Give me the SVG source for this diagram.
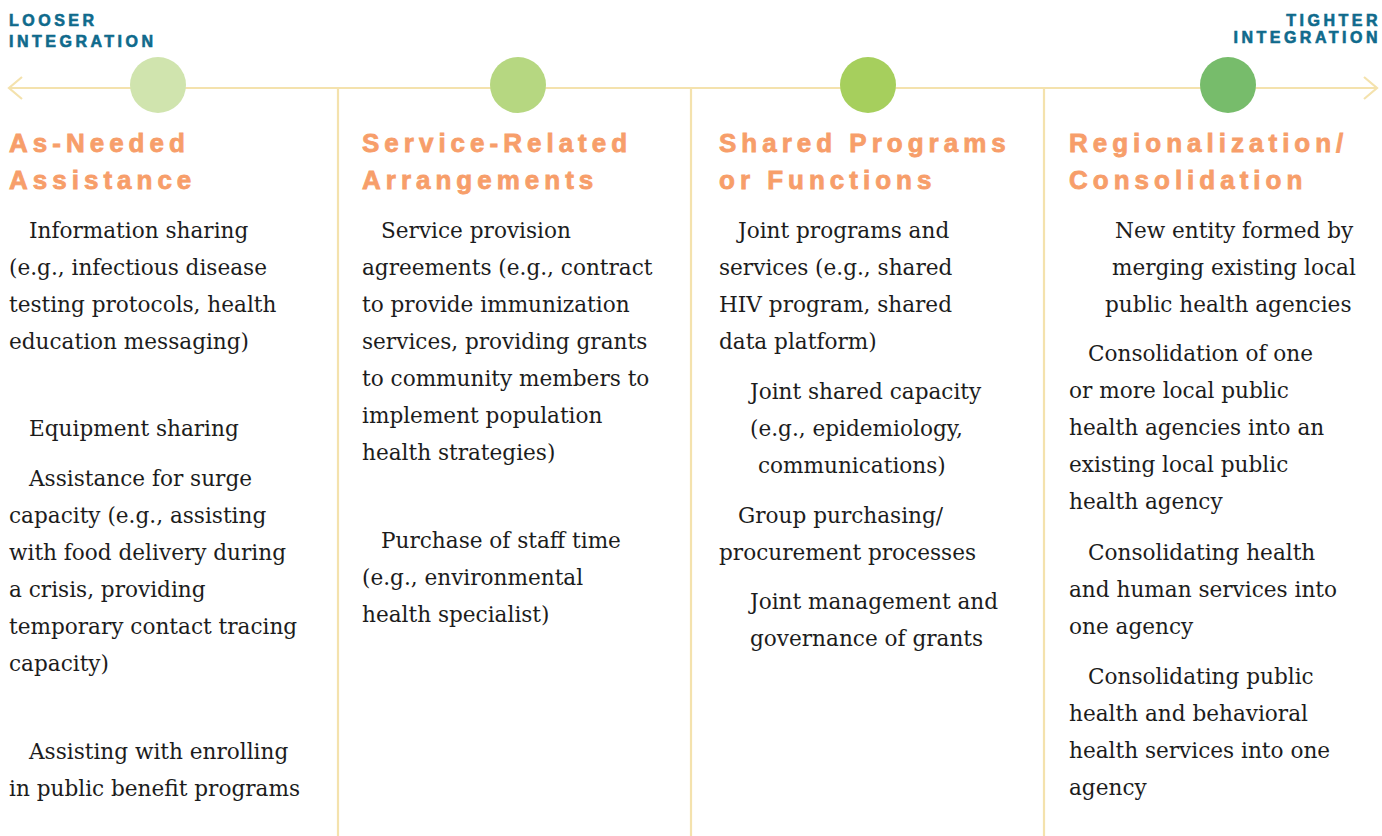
<svg xmlns="http://www.w3.org/2000/svg" width="1382" height="836" viewBox="0 0 1382 836">
  <style>
    .axis { stroke: #f4e2ad; stroke-width: 2.2; fill: none; }
    .divider { stroke: #f4e2ad; stroke-width: 2.2; }
    .end-label { font-family: "Liberation Sans", Arial, sans-serif; font-weight: 700; font-size: 16px; letter-spacing: 3.5px; fill: #0f6a8c; stroke: #0f6a8c; stroke-width: 0.6px; paint-order: stroke; }
    .heading { font-family: "Liberation Sans", Arial, sans-serif; font-weight: 700; font-size: 26px; letter-spacing: 5px; fill: #f79e6a; stroke: #f79e6a; stroke-width: 0.8px; paint-order: stroke; }
    .body { font-family: "DejaVu Serif", "Liberation Serif", serif; font-size: 21.6px; fill: #1c1c1c; }
  </style>
  <defs>
    <marker id="chevron" viewBox="0 0 16 24" refX="14" refY="12" markerWidth="16" markerHeight="24" markerUnits="userSpaceOnUse" orient="auto-start-reverse">
      <path d="M1,1 L14,12 L1,23" fill="none" stroke="#f4e2ad" stroke-width="2.2"/>
    </marker>
  </defs>

  <rect width="1382" height="836" fill="#ffffff"/>

  <!-- axis and column dividers -->
  <g id="connectors">
    <line class="axis" x1="9" y1="88" x2="1377" y2="88" marker-start="url(#chevron)" marker-end="url(#chevron)"/>
    <line class="divider" x1="338" y1="88" x2="338" y2="836"/>
    <line class="divider" x1="691" y1="88" x2="691" y2="836"/>
    <line class="divider" x1="1044" y1="88" x2="1044" y2="836"/>
  </g>

  <!-- scale ends -->
  <g id="looser">
    <text class="end-label" x="9" y="26">LOOSER</text>
    <text class="end-label" x="9" y="47">INTEGRATION</text>
  </g>
  <g id="tighter">
    <text class="end-label" x="1381" y="26" text-anchor="end">TIGHTER</text>
    <text class="end-label" x="1381" y="43" text-anchor="end">INTEGRATION</text>
  </g>

  <!-- column 1 -->
  <g id="as-needed">
    <circle cx="158" cy="85" r="28" fill="#d0e4ae"/>
    <text class="heading" x="9" y="152">As-Needed</text>
    <text class="heading" x="9" y="189">Assistance</text>
    <text class="body" x="29" y="238">Information sharing</text>
    <text class="body" x="9" y="275">(e.g., infectious disease</text>
    <text class="body" x="9" y="312">testing protocols, health</text>
    <text class="body" x="9" y="349">education messaging)</text>
    <text class="body" x="29" y="436">Equipment sharing</text>
    <text class="body" x="29" y="486">Assistance for surge</text>
    <text class="body" x="9" y="523">capacity (e.g., assisting</text>
    <text class="body" x="9" y="560">with food delivery during</text>
    <text class="body" x="9" y="597">a crisis, providing</text>
    <text class="body" x="9" y="634">temporary contact tracing</text>
    <text class="body" x="9" y="671">capacity)</text>
    <text class="body" x="29" y="759">Assisting with enrolling</text>
    <text class="body" x="9" y="796">in public benefit programs</text>
  </g>

  <!-- column 2 -->
  <g id="service-related">
    <circle cx="518" cy="85" r="28" fill="#b6d781"/>
    <text class="heading" x="362" y="152">Service-Related</text>
    <text class="heading" x="362" y="189">Arrangements</text>
    <text class="body" x="381" y="238">Service provision</text>
    <text class="body" x="362" y="275">agreements (e.g., contract</text>
    <text class="body" x="362" y="312">to provide immunization</text>
    <text class="body" x="362" y="349">services, providing grants</text>
    <text class="body" x="362" y="386">to community members to</text>
    <text class="body" x="362" y="423">implement population</text>
    <text class="body" x="362" y="460">health strategies)</text>
    <text class="body" x="381" y="548">Purchase of staff time</text>
    <text class="body" x="362" y="585">(e.g., environmental</text>
    <text class="body" x="362" y="622">health specialist)</text>
  </g>

  <!-- column 3 -->
  <g id="shared-programs">
    <circle cx="868" cy="85" r="28" fill="#a6cf5d"/>
    <text class="heading" x="719" y="152">Shared Programs</text>
    <text class="heading" x="719" y="189">or Functions</text>
    <text class="body" x="738" y="238">Joint programs and</text>
    <text class="body" x="719" y="275">services (e.g., shared</text>
    <text class="body" x="719" y="312">HIV program, shared</text>
    <text class="body" x="719" y="349">data platform)</text>
    <text class="body" x="750" y="399">Joint shared capacity</text>
    <text class="body" x="750" y="436">(e.g., epidemiology,</text>
    <text class="body" x="758" y="473">communications)</text>
    <text class="body" x="738" y="523">Group purchasing/</text>
    <text class="body" x="719" y="560">procurement processes</text>
    <text class="body" x="750" y="609">Joint management and</text>
    <text class="body" x="750" y="646">governance of grants</text>
  </g>

  <!-- column 4 -->
  <g id="regionalization">
    <circle cx="1228" cy="85" r="28" fill="#77bc6b"/>
    <text class="heading" x="1069" y="152">Regionalization/</text>
    <text class="heading" x="1069" y="189">Consolidation</text>
    <text class="body" x="1115" y="238">New entity formed by</text>
    <text class="body" x="1112" y="275">merging existing local</text>
    <text class="body" x="1105" y="312">public health agencies</text>
    <text class="body" x="1088" y="361">Consolidation of one</text>
    <text class="body" x="1069" y="398">or more local public</text>
    <text class="body" x="1069" y="435">health agencies into an</text>
    <text class="body" x="1069" y="472">existing local public</text>
    <text class="body" x="1069" y="509">health agency</text>
    <text class="body" x="1088" y="560">Consolidating health</text>
    <text class="body" x="1069" y="597">and human services into</text>
    <text class="body" x="1069" y="634">one agency</text>
    <text class="body" x="1088" y="684">Consolidating public</text>
    <text class="body" x="1069" y="721">health and behavioral</text>
    <text class="body" x="1069" y="758">health services into one</text>
    <text class="body" x="1069" y="795">agency</text>
  </g>
</svg>
